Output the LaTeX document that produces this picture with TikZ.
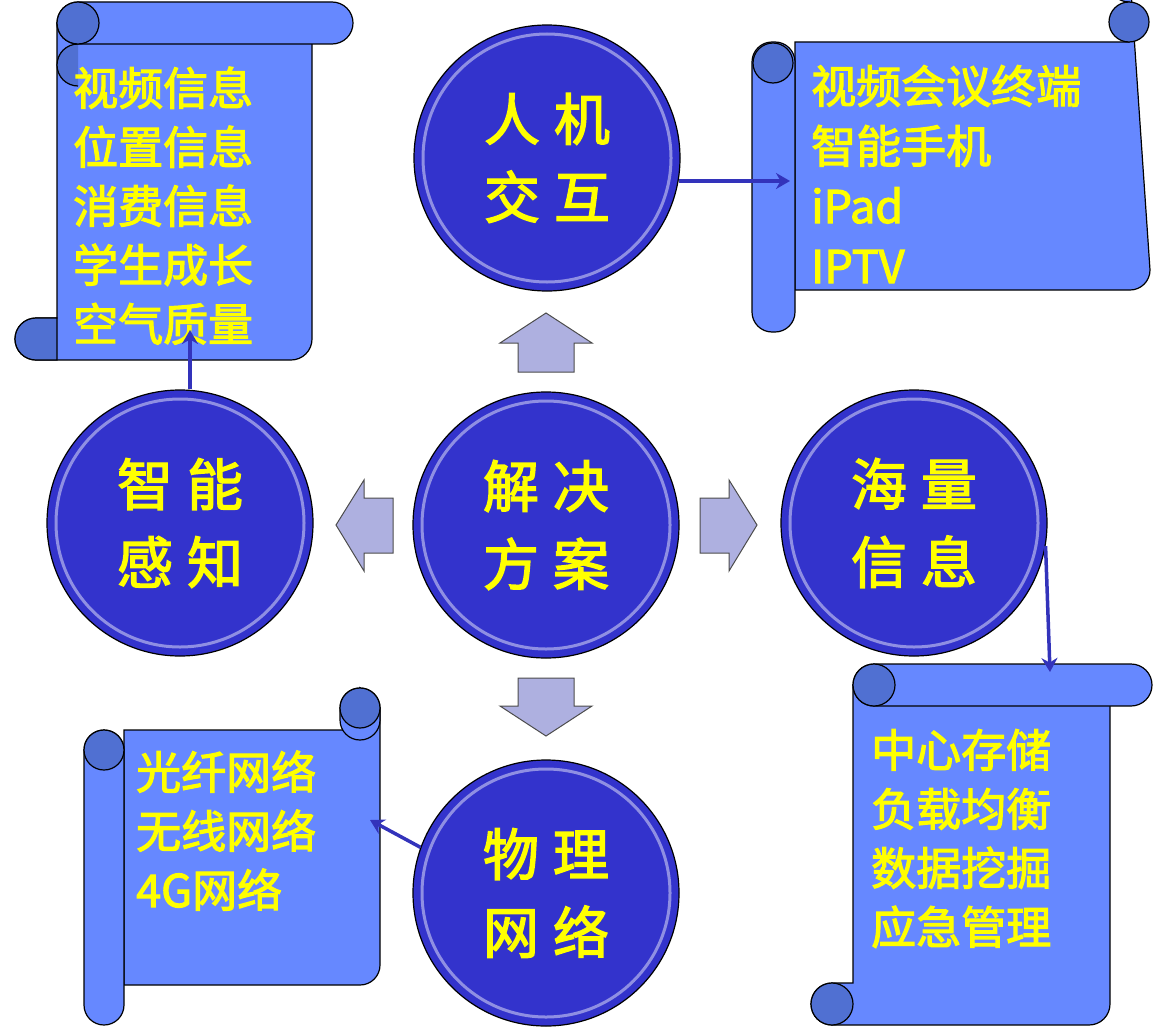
\documentclass[tikz,border=0pt]{standalone}
\usepackage{fontspec}
\newfontfamily\cjk[AutoFakeBold=2.5]{Noto Sans CJK SC}
\usetikzlibrary{arrows.meta}
\definecolor{scrollc}{RGB}{102,136,255}
\definecolor{curlc}{RGB}{80,112,210}
\definecolor{ballc}{RGB}{51,51,204}
\definecolor{arrc}{RGB}{174,176,224}
\definecolor{linkc}{RGB}{51,51,187}
\definecolor{txtc}{RGB}{255,255,0}
\tikzset{
  x=1pt,y=-1pt,
  scr/.style={fill=scrollc,draw=black,line width=1.2pt},
  curl/.style={fill=curlc,draw=black,line width=1.2pt},
  ball/.style={circle,minimum size=266pt,inner sep=0,fill=ballc,draw=black,line width=1.2pt,
     font=\cjk\bfseries\fontsize{56}{78}\selectfont,text=txtc,align=center},
  blk/.style={fill=arrc,draw=black!70,line width=1pt,line join=miter},
  item/.style={anchor=base west,inner sep=0,text=txtc,font=\cjk\bfseries\fontsize{45}{60}\selectfont},
  link/.style={draw=linkc,line width=3.5pt,-{Stealth[length=14pt,width=16pt]}}
}
\begin{document}
\begin{tikzpicture}
\useasboundingbox (0,0) rectangle (1169,1033);
% ---- top-left vertical scroll
\path[scr] (57,23) -- (312,23) -- (312,339) arc[start angle=0,end angle=90,radius=21] -- (36,360) arc[start angle=90,end angle=270,radius=21] -- (57,318) -- cycle;
\path[curl] (36,318) arc[start angle=-90,end angle=-270,radius=21] -- (57,360) -- (57,318) -- cycle;
\path[scr,rounded corners=21pt] (57,2) rectangle (353,44);
\path[curl] (78,44) arc[start angle=90,end angle=-90,radius=-21];
\fill[curlc,draw=black,line width=1.2pt] (78,23) circle (21);
% ---- top-right horizontal scroll
\path[scr] (795,42) -- (1129,42) -- (1129,2) arc[start angle=-90,end angle=90,radius=-20] -- (1150,270) arc[start angle=0,end angle=90,radius=20] -- (795,290) -- cycle;
\path[scr,rounded corners=20pt] (752,42) rectangle (795,332);
\fill[curlc,draw=black,line width=1.2pt] (773,63) circle (20);
\fill[curlc,draw=black,line width=1.2pt] (1129,22) circle (20);
% ---- bottom-left horizontal scroll
\path[scr] (124,730) -- (360,730) -- (360,688) -- (380,708) -- (380,965) arc[start angle=0,end angle=90,radius=20] -- (124,985) -- cycle;
\path[scr,rounded corners=20pt] (340,688) rectangle (380,740);
\path[scr,rounded corners=20pt] (84,730) rectangle (124,1025);
\fill[curlc,draw=black,line width=1.2pt] (104,750) circle (20);
\fill[curlc,draw=black,line width=1.2pt] (360,708) circle (20);
% ---- bottom-right vertical scroll
\path[scr] (853,685) -- (1110,685) -- (1110,1004) arc[start angle=0,end angle=90,radius=21] -- (832,1025) arc[start angle=90,end angle=270,radius=21] -- (853,983) -- cycle;
\fill[curlc,draw=black,line width=1.2pt] (832,1004) circle (21);
\path[scr,rounded corners=21pt] (853,664) rectangle (1152,706);
\fill[curlc,draw=black,line width=1.2pt] (874,685) circle (21);
% ---- texts
\foreach \t [count=\i from 0] in {视频信息,位置信息,消费信息,学生成长,空气质量}
  \node[item] (tl\i) at (73,105+59*\i) {\t};
\foreach \t [count=\i from 0] in {视频会议终端,智能手机,iPad,IPTV}
  \node[item] (tr\i) at (811,103+60*\i) {\t};
\foreach \t [count=\i from 0] in {光纤网络,无线网络,4G网络}
  \node[item] (bl\i) at (136,789+59*\i) {\t};
\foreach \t [count=\i from 0] in {中心存储,负载均衡,数据挖掘,应急管理}
  \node[item] (br\i) at (871,767+59*\i) {\t};
% ---- block arrows
\path[blk] (546,313) -- (592,343) -- (574,343) -- (574,372) -- (518,372) -- (518,343) -- (500,343) -- cycle;
\path[blk] (546,736) -- (592,706) -- (574,706) -- (574,678) -- (518,678) -- (518,706) -- (500,706) -- cycle;
\path[blk] (336,525) -- (364,480) -- (364,498) -- (393,498) -- (393,553) -- (364,553) -- (364,571) -- cycle;
\path[blk] (757,525) -- (729,480) -- (729,498) -- (700,498) -- (700,553) -- (729,553) -- (729,571) -- cycle;
% ---- balls
\foreach \n/\p/\t in {c/{(546,525)}/{解\hspace{14pt}决\\方\hspace{14pt}案},
  t/{(547,158)}/{人\hspace{14pt}机\\交\hspace{14pt}互},
  l/{(180,523)}/{智\hspace{14pt}能\\感\hspace{14pt}知},
  r/{(914,523)}/{海\hspace{14pt}量\\信\hspace{14pt}息},
  b/{(546,893)}/{物\hspace{14pt}理\\网\hspace{14pt}络}}
{
  \node[ball] (\n) at \p {\t};
  \draw[white,opacity=0.45,line width=3pt] \p circle (124);
}
% ---- connectors
\coordinate (ta) at (790,181);
\coordinate (la) at (190,330);
\coordinate (ra) at (1050,672);
\coordinate (ba) at (370,820);
\draw[link] (t.east |- ta) ++(-2,0) -- (ta);
\draw[link] (l.north -| la) -- (la);
\draw[link] (r.-10) -- (ra);
\draw[link] (b.160) -- (ba);
\end{tikzpicture}
\end{document}
